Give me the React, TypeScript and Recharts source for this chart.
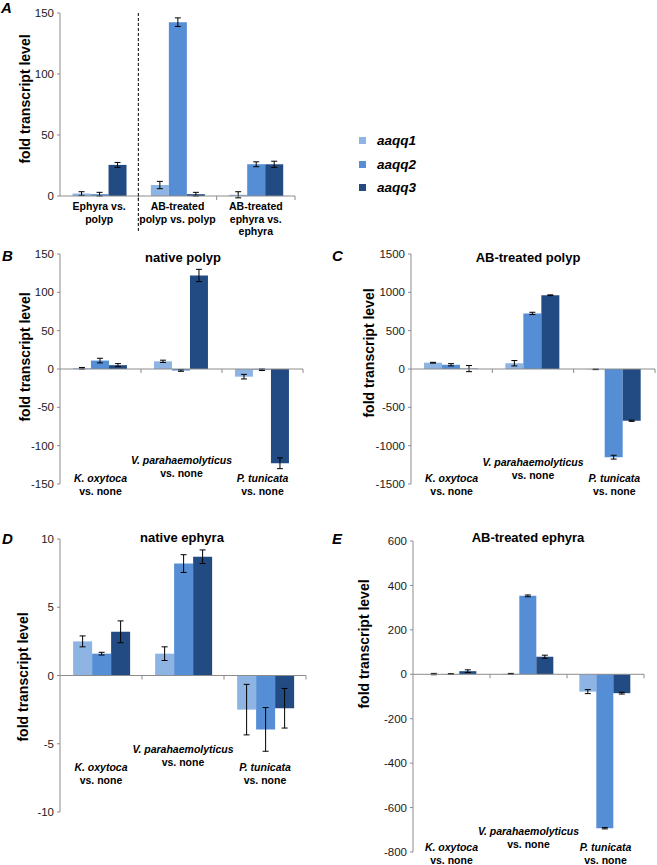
import React from "react";
import { BarChart, Bar, XAxis, YAxis, ErrorBar, ReferenceLine } from "recharts";

const FONT = "'Liberation Sans', Arial, Helvetica, sans-serif";
const AXIS_GRAY = "#8c8c8c";
const TEXT = "#1a1a1a";

const series = ["aaqq1", "aaqq2", "aaqq3"];
const seriesColors = ["#8EB4E3", "#558ED5", "#234B83"];

// A: developmental stage comparisons
const stageCategories = ["Ephyra vs. polyp", "AB-treated polyp vs. polyp", "AB-treated ephyra vs. ephyra"];
const stageLabelLines = [["Ephyra vs.", "polyp"], ["AB-treated", "polyp vs. polyp"], ["AB-treated", "ephyra vs.", "ephyra"]];
const stageAaqq1 = [2, 9, 1];
const stageAaqq1Err = [1.5, 3, 2.5];
const stageAaqq2 = [1.5, 142.5, 26];
const stageAaqq2Err = [1.5, 3.5, 2];
const stageAaqq3 = [25.5, 1.5, 26];
const stageAaqq3Err = [2, 1.5, 2.5];

// B-E: bacteria vs. none
const bacteria = ["K. oxytoca", "V. parahaemolyticus", "P. tunicata"];

const polypAaqq1 = [1, 10, -10];
const polypAaqq1Err = [1, 1.5, 3];
const polypAaqq2 = [11, -2, -1];
const polypAaqq2Err = [3, 1, 1];
const polypAaqq3 = [5, 122, -123];
const polypAaqq3Err = [2, 8, 7];

const abPolypAaqq1 = [82, 75, -5];
const abPolypAaqq1Err = [5, 35, 3];
const abPolypAaqq2 = [55, 725, -1150];
const abPolypAaqq2Err = [15, 15, 25];
const abPolypAaqq3 = [5, 962, -675];
const abPolypAaqq3Err = [40, 5, 8];

const ephyraAaqq1 = [2.5, 1.6, -2.5];
const ephyraAaqq1Err = [0.4, 0.5, 1.85];
const ephyraAaqq2 = [1.6, 8.2, -3.95];
const ephyraAaqq2Err = [0.1, 0.65, 1.6];
const ephyraAaqq3 = [3.2, 8.7, -2.4];
const ephyraAaqq3Err = [0.8, 0.5, 1.45];

const abEphyraAaqq1 = [1, 2, -78];
const abEphyraAaqq1Err = [3, 2, 9];
const abEphyraAaqq2 = [1, 353, -693];
const abEphyraAaqq2Err = [2, 4, 3];
const abEphyraAaqq3 = [14, 79, -85];
const abEphyraAaqq3Err = [6, 7, 4];

function rows(cats: string[], v: number[][], e: number[][]) {
  return cats.map((cat, i) => ({
    cat,
    aaqq1: v[0][i], aaqq2: v[1][i], aaqq3: v[2][i],
    aaqq1Err: e[0][i], aaqq2Err: e[1][i], aaqq3Err: e[2][i],
  }));
}

const dataA = rows(stageCategories, [stageAaqq1, stageAaqq2, stageAaqq3], [stageAaqq1Err, stageAaqq2Err, stageAaqq3Err]);
const dataB = rows(bacteria, [polypAaqq1, polypAaqq2, polypAaqq3], [polypAaqq1Err, polypAaqq2Err, polypAaqq3Err]);
const dataC = rows(bacteria, [abPolypAaqq1, abPolypAaqq2, abPolypAaqq3], [abPolypAaqq1Err, abPolypAaqq2Err, abPolypAaqq3Err]);
const dataD = rows(bacteria, [ephyraAaqq1, ephyraAaqq2, ephyraAaqq3], [ephyraAaqq1Err, ephyraAaqq2Err, ephyraAaqq3Err]);
const dataE = rows(bacteria, [abEphyraAaqq1, abEphyraAaqq2, abEphyraAaqq3], [abEphyraAaqq1Err, abEphyraAaqq2Err, abEphyraAaqq3Err]);

const Y_W = 60;
const M_TOP = 10;
const M_RIGHT = 2;

// zero line drawn as the category axis, with marks between categories
function ZeroAxis(props: any) {
  const { x1, x2, y1, n, divider } = props;
  const step = (x2 - x1) / n;
  const marks = Array.from({ length: n }, (_, i) => x1 + step * (i + 1));
  return (
    <g>
      <line x1={x1} x2={x2} y1={y1} y2={y1} stroke={AXIS_GRAY} strokeWidth={1} />
      {marks.map((x) => (
        <line key={x} x1={x} x2={x} y1={y1} y2={y1 + 4} stroke={AXIS_GRAY} strokeWidth={1} />
      ))}
      {divider && (
        <line x1={x1 + step} x2={x1 + step} y1={M_TOP} y2={y1 + 36} stroke="#000" strokeWidth={1} strokeDasharray="3 2" />
      )}
    </g>
  );
}

function StageTick(props: any) {
  const { x, y, payload } = props;
  const lines = stageLabelLines[stageCategories.indexOf(payload.value)] || [];
  return (
    <text x={x} y={y} textAnchor="middle" fontSize={10.5} fontWeight="bold" fill="#000" fontFamily={FONT}>
      {lines.map((l, j) => (
        <tspan key={j} x={x} y={y + 14 + j * 12.5}>{l}</tspan>
      ))}
    </text>
  );
}

function makeBactTick(base: number, lift: number) {
  return (props: any) => {
    const { x, y, payload } = props;
    const i = bacteria.indexOf(payload.value);
    const cy = y + (i === 1 ? base - lift : base) + 4;
    return (
      <text x={x} y={cy} textAnchor="middle" fontSize={10.5} fontWeight="bold" fill="#000" fontFamily={FONT}>
        <tspan x={x} y={cy} fontStyle="italic">{payload.value}</tspan>
        <tspan x={x} y={cy + 13}>vs. none</tspan>
      </text>
    );
  };
}

type PanelProps = {
  data: any[];
  plot: { l: number; t: number; r: number; b: number };
  domain: [number, number];
  ticks: number[];
  xHeight: number;
  tick: any;
  divider?: boolean;
};

function Panel({ data, plot, domain, ticks, xHeight, tick, divider }: PanelProps) {
  const left = plot.l - Y_W;
  const top = plot.t - M_TOP;
  const width = plot.r - left + M_RIGHT;
  const height = plot.b - top + xHeight;
  return (
    <div style={{ position: "absolute", left, top }}>
      <BarChart
        width={width}
        height={height}
        data={data}
        margin={{ top: M_TOP, right: M_RIGHT, left: 0, bottom: 0 }}
        barCategoryGap="16%"
        barGap={0}
      >
        <XAxis dataKey="cat" axisLine={false} tickLine={false} tickSize={0} tickMargin={0} height={xHeight} interval={0} tick={tick} />
        <YAxis
          width={Y_W}
          domain={domain}
          ticks={ticks}
          interval={0}
          allowDataOverflow
          axisLine={{ stroke: AXIS_GRAY }}
          tickLine={{ stroke: AXIS_GRAY }}
          tickSize={3}
          tickMargin={3}
          tick={{ fill: TEXT, fontSize: 11.5, fontFamily: FONT }}
        />
        {series.map((s, i) => (
          <Bar key={s} dataKey={s} fill={seriesColors[i]} isAnimationActive={false}>
            <ErrorBar dataKey={`${s}Err`} width={3} stroke="#000" strokeWidth={1} />
          </Bar>
        ))}
        <ReferenceLine y={0} shape={(p: any) => <ZeroAxis {...p} n={data.length} divider={divider} />} />
      </BarChart>
    </div>
  );
}

const letters = [
  { t: "A", x: 1, y: 13 },
  { t: "B", x: 2, y: 261 },
  { t: "C", x: 332, y: 261 },
  { t: "D", x: 2, y: 544 },
  { t: "E", x: 332, y: 544 },
];
const titles = [
  { t: "native polyp", x: 183, y: 262 },
  { t: "AB-treated polyp", x: 528, y: 262 },
  { t: "native ephyra", x: 182, y: 542 },
  { t: "AB-treated ephyra", x: 528, y: 542 },
];
const yTitles = [
  { x: 25, y: 99 },
  { x: 25, y: 357 },
  { x: 369, y: 353 },
  { x: 23, y: 677 },
  { x: 364, y: 644 },
];

export default function App() {
  return (
    <div style={{ position: "absolute", left: 0, top: 0, width: 657, height: 865, background: "#fff", fontFamily: FONT }}>
      <Panel data={dataA} plot={{ l: 60, t: 13, r: 295, b: 196 }} domain={[0, 150]} ticks={[0, 50, 100, 150]} xHeight={45} tick={StageTick} divider />
      <Panel data={dataB} plot={{ l: 60, t: 254, r: 303, b: 484 }} domain={[-150, 150]} ticks={[-150, -100, -50, 0, 50, 100, 150]} xHeight={20} tick={makeBactTick(-6, 18)} />
      <Panel data={dataC} plot={{ l: 411, t: 254, r: 655, b: 484 }} domain={[-1500, 1500]} ticks={[-1500, -1000, -500, 0, 500, 1000, 1500]} xHeight={20} tick={makeBactTick(-6, 16)} />
      <Panel data={dataD} plot={{ l: 60, t: 539, r: 306, b: 812 }} domain={[-10, 10]} ticks={[-10, -5, 0, 5, 10]} xHeight={20} tick={makeBactTick(-45, 18)} />
      <Panel data={dataE} plot={{ l: 413, t: 541, r: 644, b: 852 }} domain={[-800, 600]} ticks={[-800, -600, -400, -200, 0, 200, 400, 600]} xHeight={13} tick={makeBactTick(-5, 16)} />

      <div style={{ position: "absolute", left: 359, top: 129 }}>
        {series.map((s, i) => (
          <div key={s} style={{ display: "flex", alignItems: "center", height: 23.5 }}>
            <span style={{ display: "inline-block", width: 7, height: 7, background: seriesColors[i], marginRight: 11 }} />
            <span style={{ fontWeight: "bold", fontStyle: "italic", fontSize: 13.5, color: "#000" }}>{s}</span>
          </div>
        ))}
      </div>

      <svg width={657} height={865} style={{ position: "absolute", left: 0, top: 0, pointerEvents: "none" }} fontFamily={FONT}>
        {letters.map((l) => (
          <text key={l.t} x={l.x} y={l.y} fontSize={15} fontWeight="bold" fontStyle="italic" fill="#000">{l.t}</text>
        ))}
        {titles.map((l) => (
          <text key={l.t} x={l.x} y={l.y} fontSize={13} fontWeight="bold" textAnchor="middle" fill="#000">{l.t}</text>
        ))}
        {yTitles.map((l, i) => (
          <text key={i} x={l.x} y={l.y} fontSize={14} fontWeight="bold" textAnchor="middle" dominantBaseline="central" transform={`rotate(-90 ${l.x} ${l.y})`} fill="#000">
            fold transcript level
          </text>
        ))}
      </svg>
    </div>
  );
}
